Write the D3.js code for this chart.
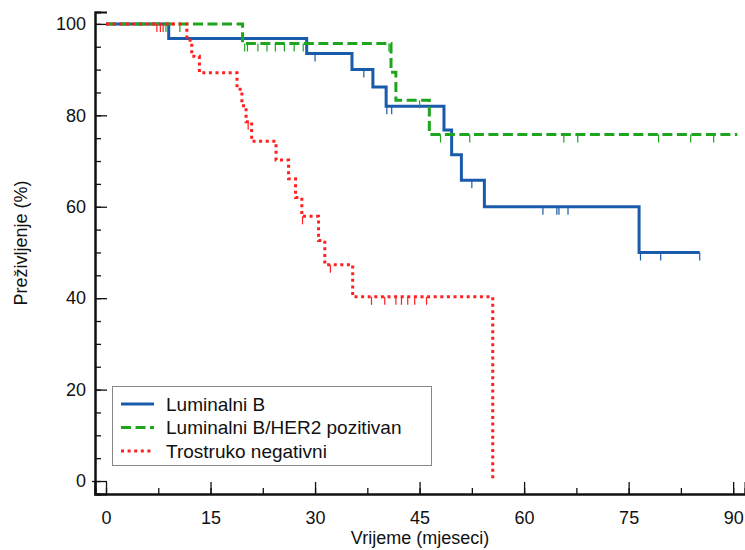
<!DOCTYPE html>
<meta charset="utf-8">
<style>
body { margin: 0; background: #fff; }
svg { display: block; }
text { font-family: "Liberation Sans", Arial, sans-serif; fill: #111; }
</style>
<body>
<div id="chart"><svg width="745" height="550"></svg></div>
<script src="https://cdn.jsdelivr.net/npm/d3@7"></script>
<script>

// Luminalni B
var lumBTime = [0, 9.0, 28.8, 35.3, 38.3, 40.2, 48.5, 49.6, 51.0, 54.3, 76.5];
var lumBSurv = [100, 96.8, 93.5, 90.0, 86.2, 82.0, 76.8, 71.4, 65.8, 60.0, 50.0];
var lumBEnd = 85.2;
var lumBCensor = [30.0, 37.0, 40.3, 41.0, 52.5, 62.7, 64.7, 65.0, 66.3, 76.7, 79.6, 85.2];

// Luminalni B/HER2 pozitivan
var her2Time = [0, 19.6, 40.9, 41.6, 46.4];
var her2Surv = [100, 95.7, 89.4, 83.3, 75.8];
var her2End = 90.6;
var her2Censor = [8.6, 10.6, 19.9, 20.3, 21.8, 23.1, 24.3, 25.6, 27.0, 28.3, 40.6, 45.0,
                  48.0, 52.2, 65.7, 67.7, 79.3, 83.9, 87.2];

// Trostruko negativni
var tnTime = [0, 11.6, 12.3, 13.4, 18.8, 19.5, 20.1, 20.9, 24.4, 26.2, 27.2, 28.1, 30.5, 31.4, 35.4, 55.5];
var tnSurv = [100, 96.4, 92.9, 89.3, 85.7, 82.1, 78.6, 74.3, 70.2, 66.1, 62.0, 57.9, 52.6, 47.3, 40.3, 0];
var tnEnd = 55.5;
var tnCensor = [7.3, 7.8, 8.2, 20.4, 28.2, 32.2, 38.1, 40.0, 41.6, 42.4, 43.3, 44.3, 46.0];

var xTicks = [0, 15, 30, 45, 60, 75, 90];
var yTicks = [0, 20, 40, 60, 80, 100];

var series = [
  {name: "Luminalni B", time: lumBTime, surv: lumBSurv, end: lumBEnd, censor: lumBCensor,
   color: "#1a5aaa", dash: null},
  {name: "Luminalni B/HER2 pozitivan", time: her2Time, surv: her2Surv, end: her2End, censor: her2Censor,
   color: "#1ea51e", dash: "10,4.5"},
  {name: "Trostruko negativni", time: tnTime, surv: tnSurv, end: tnEnd, censor: tnCensor,
   color: "#ff1f1f", dash: "3,3.6"}
];

var svg = d3.select("#chart svg");

var x = d3.scaleLinear().domain([-1.58, 91.7]).range([95, 745]);
var y = d3.scaleLinear().domain([-2.84, 102.6]).range([494, 12]);

// axes: minor ticks first, then labelled majors
var gx = svg.append("g").attr("transform", "translate(0,494)")
    .call(d3.axisBottom(x).tickValues(d3.range(0, 91, 7.5)).tickSize(-6).tickFormat(""));
gx.append("g").call(d3.axisBottom(x).tickValues(xTicks).tickSize(-12).tickPadding(17));
var gy = svg.append("g").attr("transform", "translate(95,0)")
    .call(d3.axisLeft(y).tickValues(d3.range(0, 101, 5)).tickSize(-6).tickFormat(""));
gy.append("g").call(d3.axisLeft(y).tickValues(yTicks).tickSize(-12).tickPadding(9));

svg.selectAll(".domain").attr("stroke", "#111").attr("stroke-width", 2);
svg.selectAll(".tick line").attr("stroke", "#111").attr("stroke-width", 1.3);
svg.selectAll(".tick text").style("font-size", "18px").attr("fill", "#111");
gx.selectAll(".tick text").attr("dy", "0.71em");
gy.select("g").selectAll(".tick text").attr("x", -9).attr("dx", "-0.2em");
gy.select("g").selectAll(".tick line").attr("x1", -3);

svg.append("text")
    .attr("text-anchor", "middle")
    .attr("x", 420).attr("y", 544)
    .style("font-size", "18px")
    .text("Vrijeme (mjeseci)");

svg.append("text")
    .attr("text-anchor", "middle")
    .attr("transform", "translate(27,243) rotate(-90)")
    .style("font-size", "18px")
    .text("Preživljenje (%)");

function survAt(s, t) {
  var i = d3.bisectRight(s.time, t) - 1;
  return s.surv[Math.max(0, i)];
}

var line = d3.line().x(function(d) { return x(d[0]); }).y(function(d) { return y(d[1]); })
    .curve(d3.curveStepAfter);

series.forEach(function(s) {
  var pts = s.time.map(function(t, i) { return [t, s.surv[i]]; });
  if (s.end > s.time[s.time.length - 1]) pts.push([s.end, s.surv[s.surv.length - 1]]);

  // censored cases
  svg.append("g").selectAll("line")
      .data(s.censor)
    .enter().append("line")
      .attr("x1", function(d) { return x(d); })
      .attr("x2", function(d) { return x(d); })
      .attr("y1", function(d) { return y(survAt(s, d)); })
      .attr("y2", function(d) { return y(survAt(s, d)) + 8; })
      .attr("stroke", s.color)
      .attr("stroke-width", 1.2);

  svg.append("path")
      .datum(pts)
      .attr("d", line)
      .attr("fill", "none")
      .attr("stroke", s.color)
      .attr("stroke-width", 3)
      .attr("stroke-dasharray", s.dash);
});

// legend
var lg = svg.append("g");
lg.append("rect")
    .attr("x", 112.5).attr("y", 386.5).attr("width", 319).attr("height", 79)
    .attr("fill", "#fff").attr("stroke", "#888").attr("stroke-width", 1);
series.forEach(function(s, i) {
  var yy = 404 + i * 23.5;
  lg.append("line")
      .attr("x1", 121).attr("x2", 154).attr("y1", yy).attr("y2", yy)
      .attr("stroke", s.color).attr("stroke-width", 3)
      .attr("stroke-dasharray", s.dash);
  lg.append("text")
      .attr("x", 166).attr("y", yy).attr("dy", "0.35em")
      .style("font-size", "19px")
      .text(s.name);
});

</script>
</body>
